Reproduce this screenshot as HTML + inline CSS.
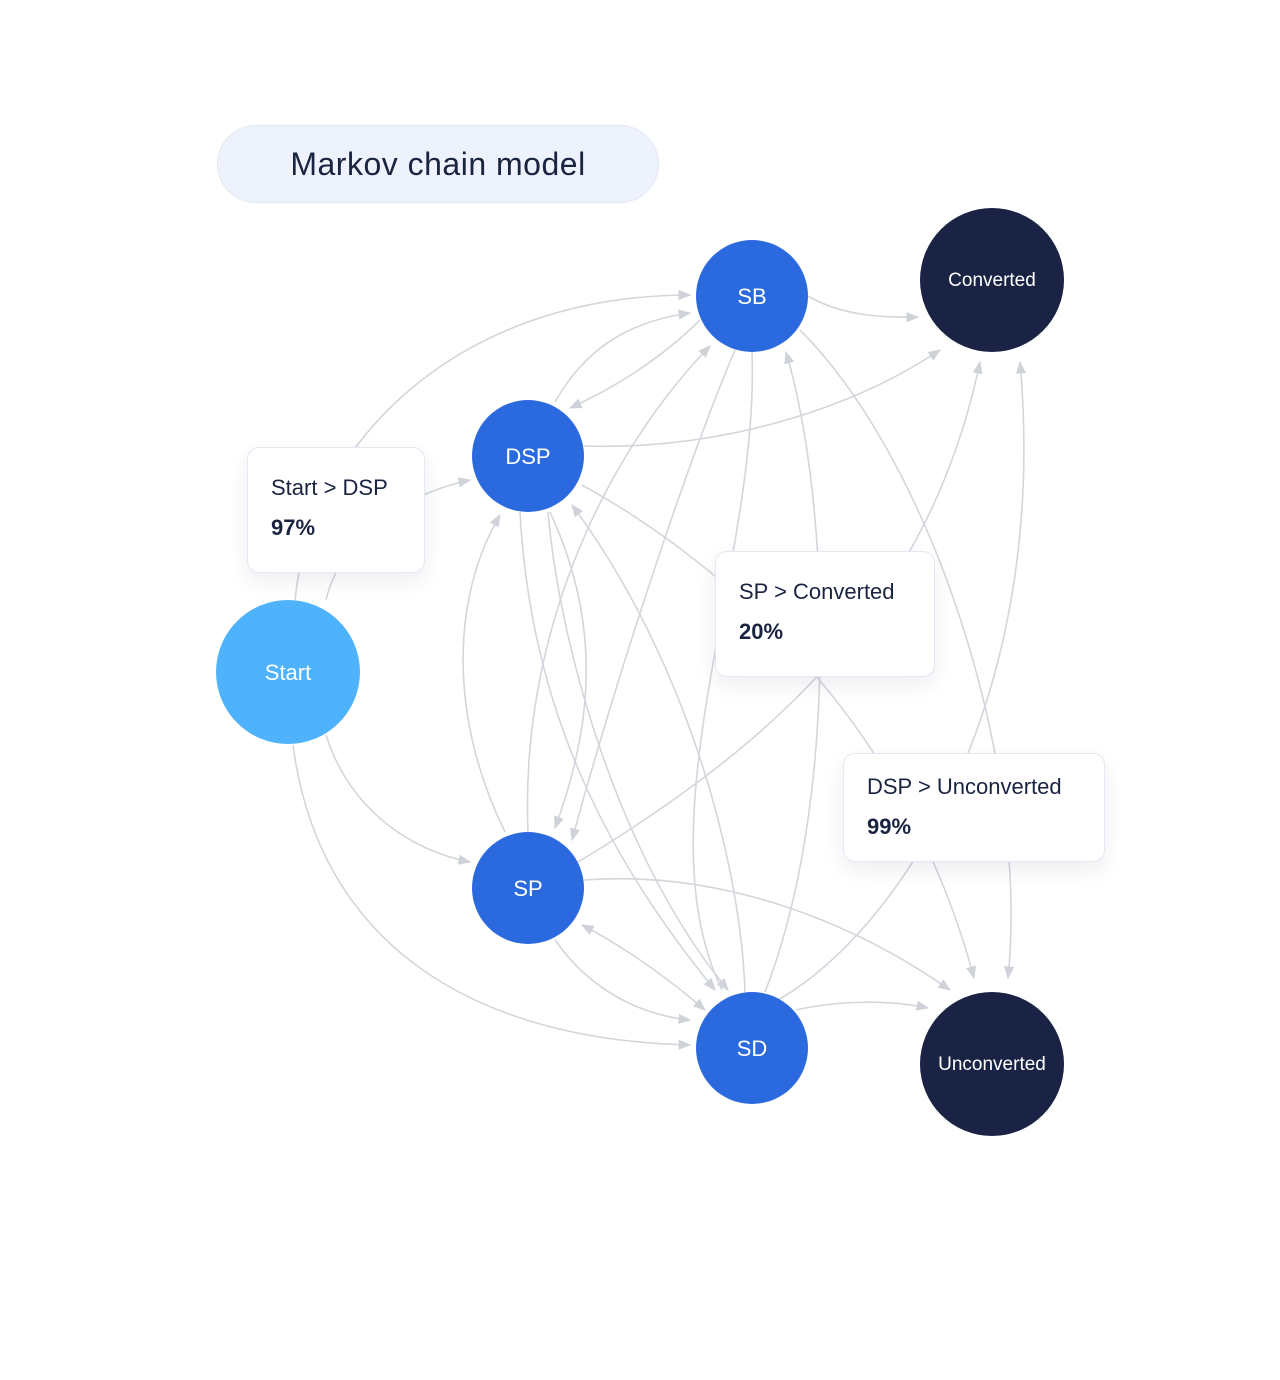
<!DOCTYPE html>
<html><head><meta charset="utf-8"><style>
body{margin:0;background:#fff;width:1280px;height:1380px;overflow:hidden;font-family:"Liberation Sans",sans-serif}
.pill{position:absolute;left:217px;top:125px;width:440px;height:76px;border-radius:40px;background:#edf2fc;border:1px solid #e2e7f1;display:flex;align-items:center;justify-content:center;font-size:32px;color:#1a2340;letter-spacing:0.5px}
.box{position:absolute;background:#fff;border:1px solid #e3e8f2;border-radius:12px;box-shadow:0 8px 20px rgba(30,40,80,0.08);color:#1a2340;font-size:22px;box-sizing:border-box;padding:26px 0 0 23px;line-height:40px}
.box b{display:block}
</style></head><body>
<svg width="1280" height="1380" style="position:absolute;left:0;top:0">
<defs><marker id="a" viewBox="0 0 10 10" refX="9" refY="5" markerWidth="8" markerHeight="8" orient="auto-start-reverse"><path d="M0,1 L10,5 L0,9 z" fill="#cfd2d9"/></marker></defs>
<g fill="none" stroke="#d3d6dc" stroke-width="1.6" marker-end="url(#a)">
<path d="M295,600 C310,450 450,295 690,295"/>
<path d="M326,600 C340,540 400,495 470,480"/>
<path d="M326,735 C350,810 410,850 470,862"/>
<path d="M293,745 C320,950 480,1040 690,1045"/>
<path d="M555,402 C590,340 640,320 690,313"/>
<path d="M700,320 C660,360 610,390 570,408"/>
<path d="M584,446 C720,450 850,410 940,350"/>
<path d="M808,296 C840,315 880,318 918,317"/>
<path d="M528,832 C520,640 600,460 710,346"/>
<path d="M550,512 C600,620 595,720 555,828"/>
<path d="M505,832 C450,720 450,600 500,515"/>
<path d="M520,512 C530,700 600,850 715,990"/>
<path d="M548,512 C560,650 620,860 728,990"/>
<path d="M745,992 C740,850 680,650 572,505"/>
<path d="M735,350 C680,480 610,700 572,840"/>
<path d="M752,352 C760,560 640,820 722,990" marker-end="none"/>
<path d="M765,992 C840,800 830,500 786,352"/>
<path d="M800,330 C930,460 1030,760 1008,978"/>
<path d="M578,862 C780,740 930,600 980,362"/>
<path d="M778,1000 C900,930 1050,700 1020,362"/>
<path d="M582,485 C700,550 900,700 974,978"/>
<path d="M584,880 C720,870 850,920 950,990"/>
<path d="M705,1010 C670,980 630,950 582,925" marker-start="url(#a)"/>
<path d="M555,940 C590,990 640,1015 690,1020"/>
<path d="M796,1010 C840,1000 890,1000 928,1008"/>
</g>
<circle cx="752" cy="296" r="56" fill="#2b6ade"/>
<circle cx="992" cy="280" r="72" fill="#1a2344"/>
<circle cx="528" cy="456" r="56" fill="#2b6ade"/>
<circle cx="288" cy="672" r="72" fill="#4fb2fd"/>
<circle cx="528" cy="888" r="56" fill="#2b6ade"/>
<circle cx="752" cy="1048" r="56" fill="#2b6ade"/>
<circle cx="992" cy="1064" r="72" fill="#1a2344"/>
<g fill="#fff" font-family="Liberation Sans,sans-serif" text-anchor="middle" font-size="22">
<text x="752" y="304">SB</text>
<text x="992" y="286" font-size="19">Converted</text>
<text x="528" y="464">DSP</text>
<text x="288" y="680">Start</text>
<text x="528" y="896">SP</text>
<text x="752" y="1056">SD</text>
<text x="992" y="1070" font-size="19">Unconverted</text>
</g>
</svg>
<div class="pill">Markov chain model</div>
<div class="box" style="left:247px;top:447px;width:178px;height:126px;padding-top:20px">Start &gt; DSP<b>97%</b></div>
<div class="box" style="left:715px;top:551px;width:220px;height:126px;padding-top:20px">SP &gt; Converted<b>20%</b></div>
<div class="box" style="left:843px;top:753px;width:262px;height:109px;padding-top:13px">DSP &gt; Unconverted<b>99%</b></div>
</body></html>
